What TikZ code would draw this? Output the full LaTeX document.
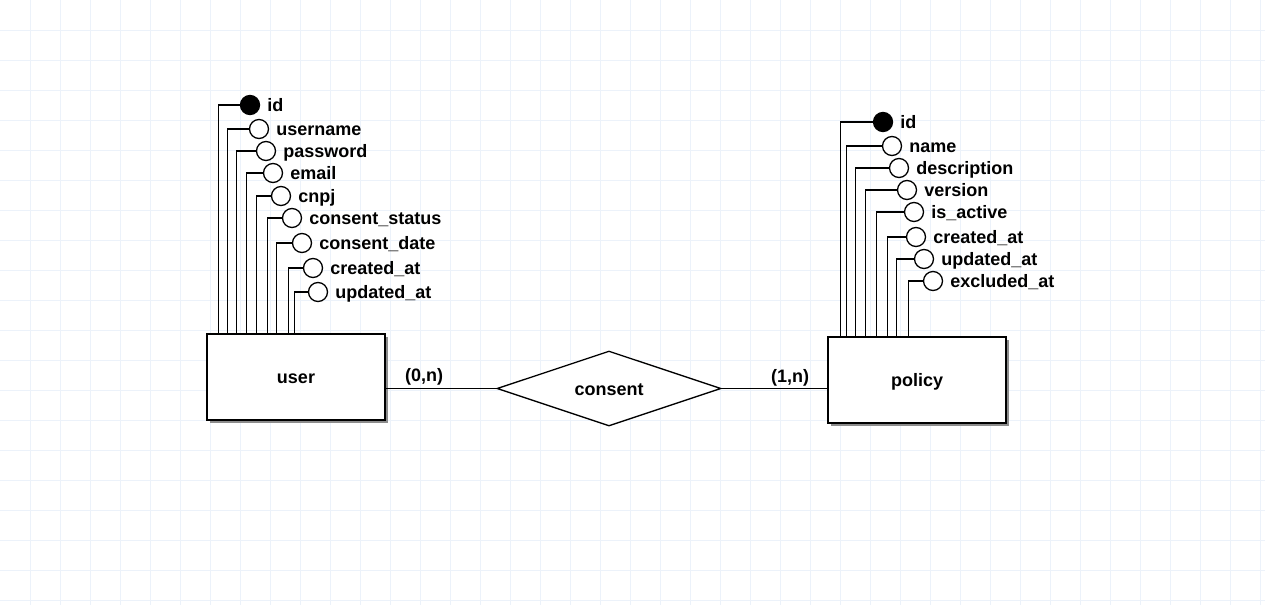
\documentclass[tikz,border=0pt]{standalone}
\usepackage{fontspec}
\setmainfont{Liberation Sans}
\usetikzlibrary{shapes.geometric,shadows,positioning}
\definecolor{gridc}{RGB}{236,242,250}
\begin{document}
\begin{tikzpicture}[x=1pt,y=-1pt,
  lw/.style={line width=1.3pt},
  txt/.style={font=\fontsize{18}{21}\selectfont\bfseries},
  entity/.style={draw,lw,fill=white,minimum width=178pt,minimum height=86pt,inner sep=0pt,txt,
    text height=13pt,text depth=0pt,
    drop shadow={shadow xshift=3pt,shadow yshift=-3pt,fill=black!45,opacity=1}},
  rel/.style={draw,lw,diamond,fill=white,minimum width=224pt,minimum height=75pt,inner sep=0pt,aspect=3,txt,
    text height=13pt,text depth=0pt},
  attr/.style={draw,lw,circle,minimum size=19pt,inner sep=0pt,fill=white},
  key/.style={attr,fill=black},
  lab/.style={inner sep=0pt,text height=13.4pt,text depth=0pt,txt},
  card/.style={inner sep=0pt,txt},
  conn/.style={lw}]
\useasboundingbox (0,0) rectangle (1265,605);
\fill[white] (0,0) rectangle (1265,605);
\foreach \i in {30,60,...,1260} \draw[gridc,line width=0.8pt] (\i,0) -- (\i,605);
\foreach \j in {30,60,...,600} \draw[gridc,line width=0.8pt] (0,\j) -- (1265,\j);

\node[entity] (user) at (296,377) {user};
\node[entity] (policy) at (917,380) {policy};
\node[rel] (consent) at (609,388.5) {consent};

\draw[conn] (consent.west) -- (consent.west -| user.east);
\draw[conn] (consent.east) -- (consent.east -| policy.west);
\node[card] (c1) at (424,377) {(0,n)};
\node[card] (c2) at (790,378) {(1,n)};

\foreach \n/\cx/\cy/\off/\t/\k in {1/250/105/12/id/key, 2/259/129/21/username/attr, 3/266/151/30/password/attr, 4/273/173/40/email/attr, 5/281/196/50/cnpj/attr, 6/292/218/61/consent\_status/attr, 7/302/243/70/consent\_date/attr, 8/313/268/82/created\_at/attr, 9/318/292/88/updated\_at/attr}{
  \draw[conn] ([xshift=\off pt]user.north west) |- (\cx,\cy);
  \node[\k] (u\n) at (\cx,\cy) {};
  \node[lab, right=7pt of u\n] (ut\n) {\t};
}
\foreach \n/\cx/\cy/\off/\t/\k in {1/883/122/13/id/key, 2/892/146/19/name/attr, 3/899/168/28/description/attr, 4/907/190/38/version/attr, 5/914/212/49/is\_active/attr, 6/916/237/60/created\_at/attr, 7/924/259/69/updated\_at/attr, 8/933/281/81/excluded\_at/attr}{
  \draw[conn] ([xshift=\off pt]policy.north west) |- (\cx,\cy);
  \node[\k] (p\n) at (\cx,\cy) {};
  \node[lab, right=7pt of p\n] (pt\n) {\t};
}
\end{tikzpicture}
\end{document}
